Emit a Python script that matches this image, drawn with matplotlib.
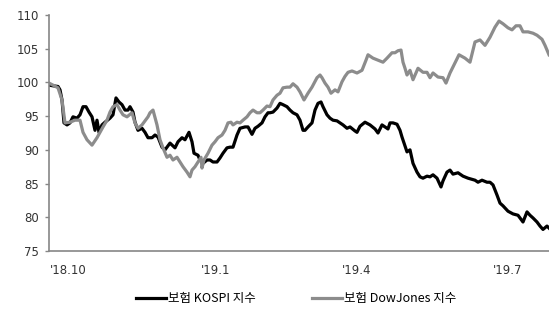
import matplotlib
matplotlib.use("Agg")
import matplotlib.pyplot as plt

plt.rcParams['font.family'] = ['Noto Sans CJK KR', 'DejaVu Sans']

# x positions in trading-time units (0 = start of Oct 2018)
kospi_t = [0, 4, 9, 11, 13, 15, 18, 21, 24, 28, 31, 34, 37, 40, 43, 46, 48, 50, 53, 56,
           61, 64, 67, 70, 73, 76, 79, 81, 84, 86, 89, 93, 96, 99, 103, 106, 109, 113, 116, 121,
           126, 129, 133, 136, 140, 143, 145, 149, 151, 154, 158, 161, 164, 168, 171, 174, 178, 181, 184, 188,
           191, 196, 199, 203, 206, 209, 213, 216, 219, 221, 224, 228, 231, 234, 238, 241, 244, 248, 251, 254,
           256, 259, 263, 266, 269, 272, 274, 278, 281, 284, 288, 291, 294, 298, 301, 306, 308, 311, 316, 321,
           326, 329, 333, 336, 339, 341, 344, 348, 351, 353, 356, 358, 361, 364, 368, 371, 374, 378, 381, 384,
           388, 392, 394, 398, 401, 404, 409, 414, 419, 426, 429, 433, 438, 441, 444, 448, 451, 454, 459, 464,
           469, 474, 478, 481, 484, 488, 491, 494, 498, 500]
kospi = [99.6, 99.5, 99.4, 98.9, 97.4, 94.0, 93.7, 94.0, 94.9, 94.7, 95.2, 96.4, 96.4, 95.6, 94.9, 92.9, 94.4, 92.6, 93.7, 94.1,
         94.7, 95.2, 97.7, 97.1, 96.7, 95.9, 95.9, 96.4, 95.6, 94.1, 92.9, 93.2, 92.6, 91.8, 91.8, 92.2, 91.9, 90.4, 90.0, 91.0,
         90.3, 91.2, 91.8, 91.5, 92.6, 91.2, 89.5, 89.2, 88.5, 88.0, 88.5, 88.5, 88.2, 88.2, 88.8, 89.5, 90.3, 90.4, 90.4, 92.2,
         93.2, 93.4, 93.4, 92.3, 93.2, 93.5, 94.0, 94.9, 95.5, 95.5, 95.6, 96.2, 96.9, 96.7, 96.4, 95.9, 95.5, 95.2, 94.4, 92.9,
         92.9, 93.4, 94.0, 95.9, 96.9, 97.1, 96.4, 95.2, 94.7, 94.4, 94.3, 94.0, 93.7, 93.2, 93.4, 92.8, 92.6, 93.5, 94.1, 93.7,
         93.1, 92.5, 93.7, 93.4, 93.1, 94.0, 94.0, 93.8, 92.9, 91.9, 90.6, 89.7, 90.0, 88.0, 86.7, 86.0, 85.8, 86.1, 86.0, 86.3,
         85.8, 84.5, 85.4, 86.7, 87.0, 86.4, 86.6, 86.1, 85.8, 85.5, 85.2, 85.5, 85.2, 85.2, 84.8, 83.3, 82.1, 81.7, 80.9, 80.5,
         80.3, 79.3, 80.8, 80.3, 79.9, 79.3, 78.7, 78.2, 78.7, 78.4]

dow_t = [0, 4, 9, 13, 16, 21, 26, 31, 34, 38, 43, 48, 51, 54, 58, 61, 64, 68, 71, 74,
         78, 83, 86, 89, 93, 96, 99, 101, 104, 108, 111, 114, 118, 121, 124, 128, 131, 134, 138, 141,
         143, 146, 149, 152, 153, 155, 159, 163, 166, 169, 173, 176, 179, 182, 184, 188, 191, 194, 198, 201,
         204, 208, 211, 214, 218, 221, 224, 228, 231, 234, 238, 241, 244, 248, 251, 255, 259, 263, 268, 271,
         273, 276, 279, 282, 286, 289, 293, 296, 299, 303, 308, 313, 317, 319, 324, 329, 334, 338, 343, 346,
         349, 352, 354, 356, 358, 361, 364, 369, 374, 378, 381, 384, 389, 394, 397, 401, 406, 410, 416, 421,
         426, 431, 436, 441, 446, 450, 454, 459, 463, 467, 471, 474, 479, 484, 488, 493, 496, 500]
dow = [99.9, 99.6, 99.2, 97.4, 94.0, 94.1, 94.4, 94.4, 92.6, 91.5, 90.7, 91.8, 92.6, 93.4, 94.4, 95.6, 96.4, 96.7, 95.9, 95.2,
       94.9, 95.5, 94.0, 93.2, 93.7, 94.3, 94.9, 95.5, 95.9, 93.7, 91.5, 90.3, 88.9, 89.2, 88.5, 88.9, 88.2, 87.5, 86.7, 86.0,
       87.0, 87.5, 88.2, 88.9, 87.3, 88.5, 89.5, 90.7, 91.2, 91.8, 92.2, 92.9, 94.0, 94.1, 93.7, 94.1, 94.0, 94.4, 94.9, 95.5,
       95.9, 95.5, 95.5, 95.9, 96.5, 96.4, 97.4, 98.1, 98.4, 99.2, 99.3, 99.3, 99.8, 99.3, 98.6, 97.4, 98.4, 99.3, 100.7, 101.1,
       100.7, 99.9, 99.3, 98.4, 98.9, 98.6, 100.1, 100.9, 101.5, 101.7, 101.4, 101.8, 103.3, 104.1, 103.6, 103.3, 103.0, 103.6, 104.4, 104.4,
       104.7, 104.8, 103.0, 102.1, 101.1, 101.8, 100.4, 102.1, 101.5, 101.5, 100.7, 101.4, 100.8, 100.7, 99.9, 101.4, 102.9, 104.1, 103.6, 103.0,
       106.0, 106.3, 105.5, 106.7, 108.2, 109.1, 108.7, 108.1, 107.8, 108.4, 108.4, 107.5, 107.5, 107.3, 107.0, 106.4, 105.5, 104.1]

tick_pos = [19, 167, 308, 459]
tick_labels = ["'18.10", "'19.1", "'19.4", "'19.7"]
y_ticks = [75, 80, 85, 90, 95, 100, 105, 110]

label_kospi = "보험 KOSPI 지수"
label_dow = "보험 DowJones 지수"

fig = plt.figure(figsize=(5.49, 3.13), dpi=100)
ax = fig.add_axes([49/549, 1-251/313, 1-49/549, (251-15)/313])

ax.plot(kospi_t, kospi, color='black', lw=2.3, label=label_kospi, solid_joinstyle='round')
ax.plot(dow_t, dow, color='#8c8c8c', lw=2.3, label=label_dow, solid_joinstyle='round')

ax.set_xlim(0, 500)
ax.set_ylim(75, 110)
ax.set_yticks(y_ticks)
ax.set_xticks(tick_pos)
ax.set_xticklabels(tick_labels)
for s in ['top', 'right']:
    ax.spines[s].set_visible(False)
for s in ['left', 'bottom']:
    ax.spines[s].set_color('#868686')
    ax.spines[s].set_linewidth(1.2)
ax.tick_params(axis='y', direction='out', length=3, width=1, color='#868686',
               labelsize=8.5, labelcolor='#333333', pad=4)
ax.tick_params(axis='x', length=0, labelsize=8.5, labelcolor='#333333', pad=9)
for lbl in ax.get_yticklabels() + ax.get_xticklabels():
    lbl.set_family(['DejaVu Sans'])

fig.legend(loc='center', bbox_to_anchor=(0.54, 0.045), ncol=2, frameon=False,
           fontsize=9, handlelength=2.4, handletextpad=0.15, columnspacing=4.5)

fig.savefig('out.png', dpi=100)
